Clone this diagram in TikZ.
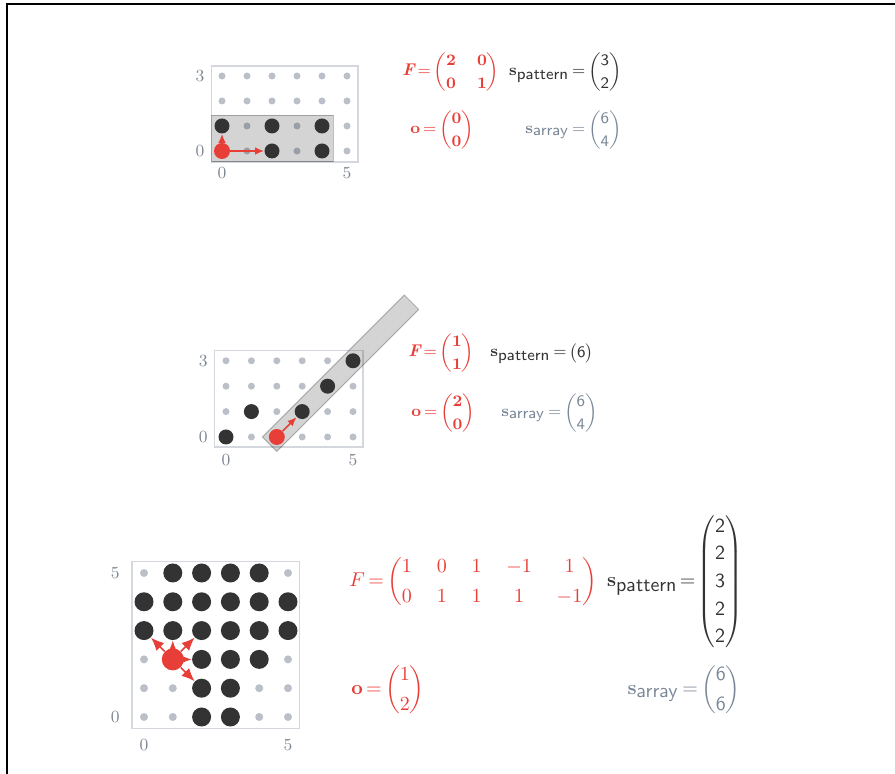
\documentclass[tikz,border=0pt]{standalone}
\usepackage{amsmath}
\usetikzlibrary{arrows.meta}
\definecolor{dotred}{RGB}{232,62,56}
\definecolor{dotblack}{RGB}{51,51,51}
\definecolor{dotgray}{RGB}{186,191,200}
\definecolor{axisgray}{RGB}{125,133,146}
\definecolor{boxgray}{RGB}{212,216,222}
\definecolor{arraygray}{RGB}{122,135,152}
\newcommand\tightmath{\delimiterfactor=750 \delimitershortfall=7pt \thickmuskip=3mu plus 2mu\relax}
\newcommand\smallfig{\fontsize{8.5}{11.5}\selectfont\tightmath}
\newcommand\largefig{\fontsize{10}{15}\selectfont\tightmath}
\newcommand\tallfig{\fontsize{10}{13.8}\selectfont\tightmath\thickmuskip=2mu\relax}
\newcommand\subpat{\mathbf{s}_{\textstyle\mathsf{pattern}}}
\newcommand\subarr{\mathbf{s}_{\textstyle\mathsf{array}}}
\newcommand\boldF{\text{\bfseries\itshape F}}
\newcommand\colvec[2]{\begin{pmatrix}#1\\#2\end{pmatrix}}
\newcommand\sfvec[2]{\begin{pmatrix}\mathsf{#1}\\\mathsf{#2}\end{pmatrix}}
\newcommand\Fone{\setlength\arraycolsep{5.3pt}\begin{pmatrix}\mathbf{2}&\mathbf{0}\\\mathbf{0}&\mathbf{1}\end{pmatrix}}
\newcommand\Fthree{\setlength\arraycolsep{6.2pt}\begin{pmatrix}1&0&1&-1&1\\0&1&1&1&-1\end{pmatrix}}
\newcommand\Sthree{\begin{pmatrix}\mathsf{2}\\\mathsf{2}\\\mathsf{3}\\\mathsf{2}\\\mathsf{2}\end{pmatrix}}
\begin{document}
\begin{tikzpicture}[x=0.5pt,y=0.5pt,
  pt/.style={circle,inner sep=0pt,fill=dotgray,minimum size=#1},
  blk/.style={circle,inner sep=0pt,fill=dotblack,minimum size=#1},
  origin/.style={circle,inner sep=0pt,fill=dotred,minimum size=#1},
  arr/.style={-{Latex[length=#1,width=0.85*#1]},draw=dotred,line width=0.8pt},
  box/.style={draw=boxgray,line width=0.7pt},
  band/.style={fill=black,fill opacity=0.17,draw=black,draw opacity=0.25,line width=0.5pt},
  ax/.style={text=axisgray,font=\fontsize{8.5}{9}\selectfont},
  txt/.style={inner sep=0pt}]
\useasboundingbox (0,0) rectangle (895,774);
\draw[line width=1.2pt] (7,0) -- (7,770) -- (895,770);
% top
\begin{scope}[shift={(222,623)},scale=25]
  \draw[box] (-0.42,-0.44) rectangle (5.44,3.4);
  \foreach \x in {0,...,5}
    \foreach \y in {0,...,3}
      \node[pt=3.5pt] (a-\x-\y) at (\x,\y) {};
  \draw[band] (-0.42,-0.44) rectangle (4.44,1.42);
  \foreach \x/\y in {0/1,2/1,4/1,2/0,4/0}
    \node[blk=7.5pt] (a\x\y) at (\x,\y) {};
  \node[origin=8pt] (ao) at (0,0) {};
  \draw[arr=4.5pt] (ao) -- (a20);
  \draw[arr=4.5pt] (ao) -- (a01);
  \node[ax] (ay0) at (-0.88,0) {0};
  \node[ax] (ay3) at (-0.88,3) {3};
  \node[ax] (ax0) at (0,-0.88) {0};
  \node[ax] (ax5) at (5,-0.88) {5};
\end{scope}
\node[txt,anchor=west,text=dotred,font=\smallfig] (f1) at (402,702) {$\boldF=\Fone$};
\node[txt,anchor=west,text=dotred,font=\smallfig] (o1) at (410,644) {$\mathbf{o}=\colvec{\mathbf{0}}{\mathbf{0}}$};
\node[txt,anchor=east,text=dotblack,font=\smallfig] (sp1) at (622,702) {$\subpat=\sfvec{3}{2}$};
\node[txt,anchor=east,text=arraygray,font=\smallfig] (sa1) at (622,644) {$\subarr=\sfvec{6}{4}$};
% middle
\begin{scope}[shift={(226,337)},scale=25.4]
  \draw[box] (-0.45,-0.4) rectangle (5.4,3.4);
  \foreach \x in {0,...,5}
    \foreach \y in {0,...,3}
      \node[pt=3.5pt] (b-\x-\y) at (\x,\y) {};
  \draw[band,shift={(2,0)},rotate=45] (-0.4,-0.4) rectangle (7.5,0.4);
  \foreach \x/\y in {0/0,1/1,3/1,4/2,5/3}
    \node[blk=7.5pt] (b\x\y) at (\x,\y) {};
  \node[origin=8pt] (bo) at (2,0) {};
  \draw[arr=4.5pt] (bo) -- (b31);
  \node[ax] (by0) at (-0.9,0) {0};
  \node[ax] (by3) at (-0.9,3) {3};
  \node[ax] (bx0) at (0,-0.92) {0};
  \node[ax] (bx5) at (5,-0.92) {5};
\end{scope}
\node[txt,anchor=west,text=dotred,font=\smallfig] (f2) at (408,421) {$\boldF=\colvec{\mathbf{1}}{\mathbf{1}}$};
\node[txt,anchor=west,text=dotred,font=\smallfig] (o2) at (411,361) {$\mathbf{o}=\colvec{\mathbf{2}}{\mathbf{0}}$};
\node[txt,anchor=west,text=dotblack,font=\smallfig] (sp2) at (490,421) {$\subpat=\begin{pmatrix}\mathsf{6}\end{pmatrix}$};
\node[txt,anchor=east,text=arraygray,font=\smallfig] (sa2) at (598,361) {$\subarr=\sfvec{6}{4}$};
% bottom
\begin{scope}[shift={(144,57)},scale=28.8]
  \draw[box] (-0.42,-0.4) rectangle (5.4,5.4);
  \foreach \x in {0,...,5}
    \foreach \y in {0,...,5}
      \node[pt=4pt] (c-\x-\y) at (\x,\y) {};
  \foreach \x/\y in {1/5,2/5,3/5,4/5,0/4,1/4,2/4,3/4,4/4,5/4,0/3,1/3,2/3,3/3,4/3,5/3,2/2,3/2,4/2,2/1,3/1,2/0,3/0}
    \node[blk=9.5pt] (c\x\y) at (\x,\y) {};
  \node[origin=11pt] (co) at (1,2) {};
  \foreach \n in {22,13,23,03,21}
    \draw[arr=6.5pt] (co) -- (c\n);
  \node[ax] (cy0) at (-1,0) {0};
  \node[ax] (cy5) at (-1,5) {5};
  \node[ax] (cx0) at (0,-0.97) {0};
  \node[ax] (cx5) at (5,-0.97) {5};
\end{scope}
\node[txt,anchor=west,text=dotred,font=\largefig] (f3) at (349,192) {$F=\Fthree$};
\node[txt,anchor=west,text=dotred,font=\largefig] (o3) at (351,84) {$\mathbf{o}=\colvec{1}{2}$};
\node[txt,anchor=east,text=dotblack,font=\tallfig] (sp3) at (743,192) {$\subpat=\Sthree$};
\node[txt,anchor=east,text=arraygray,font=\largefig] (sa3) at (741,84) {$\subarr=\sfvec{6}{6}$};
\end{tikzpicture}
\end{document}
